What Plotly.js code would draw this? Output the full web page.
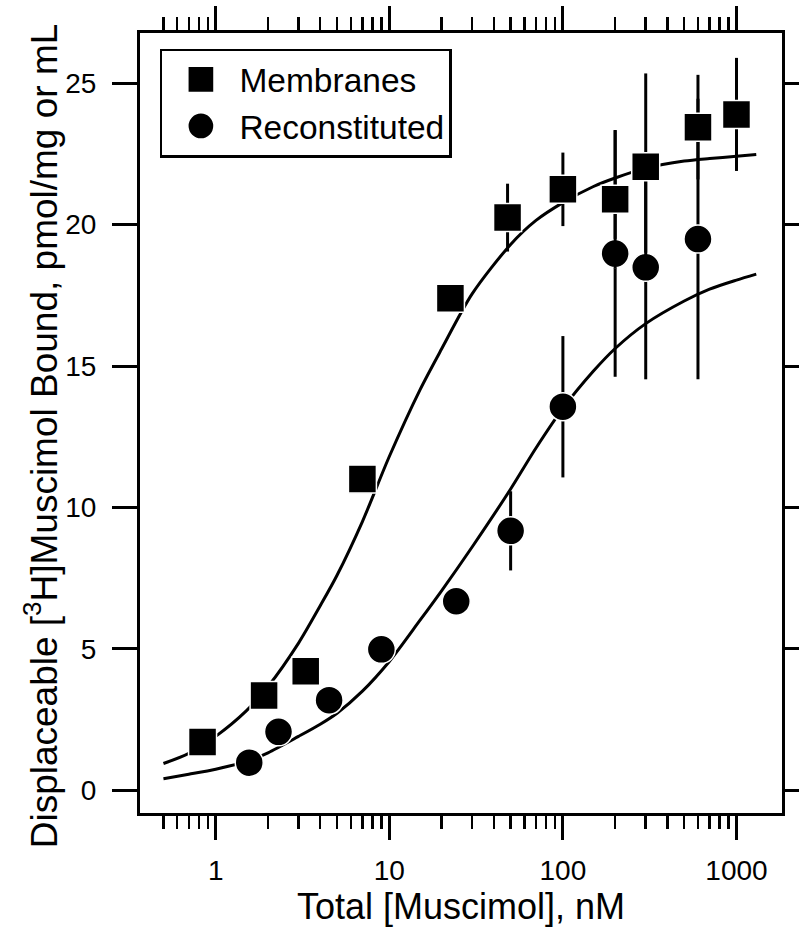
<!DOCTYPE html>
<html>
<head>
<meta charset="utf-8">
<script src="https://cdn.plot.ly/plotly-3.0.1.min.js"></script>
<style>html,body{margin:0;padding:0;background:#fff;}#chart{width:799px;height:930px;}</style>
</head>
<body>
<div id="chart"></div>
<script>
var membranesX = [0.84, 1.9, 3.3, 7.0, 22.5, 48, 100, 200, 300, 600, 1000];
var membranesY = [1.7, 3.35, 4.2, 11.0, 17.4, 20.25, 21.25, 20.9, 22.05, 23.45, 23.9];
var membranesErr = [0, 0, 0, 0, 0, 1.2, 1.3, 2.45, 3.3, 1.85, 2.0];

var reconX = [1.56, 2.3, 4.5, 9.0, 24.3, 50, 100, 200, 300, 600];
var reconY = [0.97, 2.06, 3.18, 4.98, 6.68, 9.17, 13.56, 18.98, 18.49, 19.49];
var reconErr = [0, 0, 0, 0, 0, 1.4, 2.5, 4.36, 3.96, 4.96];

// Fitted curves, points
var fitX = [0.5, 0.7, 1, 1.5, 2, 3, 4, 5, 7, 10, 15, 20, 30, 50, 70, 100, 150, 200, 300, 500, 700, 1000, 1300];
var membranesFitY = [0.94, 1.3, 1.9, 2.8, 3.66, 5.2, 6.52, 7.6, 9.5, 11.8, 14.15, 15.6, 17.55, 19.3, 20.15, 20.78, 21.35, 21.65, 22.0, 22.25, 22.34, 22.42, 22.48];
var reconFitY = [0.4, 0.56, 0.74, 1.01, 1.32, 1.9, 2.33, 2.72, 3.5, 4.55, 6.0, 7.05, 8.6, 10.65, 12.1, 13.5, 14.82, 15.62, 16.5, 17.3, 17.72, 18.04, 18.25];

// Axis ticks
var xTickVals = [1, 10, 100, 1000];
var xTickText = ['1', '10', '100', '1000'];
var xMinorVals = [0.5, 0.6, 0.7, 0.8, 0.9, 2, 3, 4, 5, 6, 7, 8, 9, 20, 30, 40, 50, 60, 70, 80, 90, 200, 300, 400, 500, 600, 700, 800, 900];
var yTickVals = [0, 5, 10, 15, 20, 25];

var seriesNames = ['Membranes', 'Reconstituted'];
var xTitle = 'Total [Muscimol], nM';
var yTitle = 'Displaceable [<sup>3</sup>H]Muscimol Bound, pmol/mg or mL';

var FONT = 'Liberation Sans, Arial, Helvetica, sans-serif';

var traces = [
  {x: fitX, y: membranesFitY, mode: 'lines', line: {color: 'black', width: 3, shape: 'spline', smoothing: 0.8}, showlegend: false, hoverinfo: 'skip'},
  {x: fitX, y: reconFitY, mode: 'lines', line: {color: 'black', width: 3, shape: 'spline', smoothing: 0.8}, showlegend: false, hoverinfo: 'skip'},
  {x: reconX, y: reconY, name: seriesNames[1], mode: 'markers', legendrank: 2,
   marker: {symbol: 'circle', size: 28, color: 'black', line: {color: 'white', width: 1.5}},
   error_y: {type: 'data', array: reconErr, visible: true, color: 'black', thickness: 3, width: 0}},
  {x: membranesX, y: membranesY, name: seriesNames[0], mode: 'markers', legendrank: 1,
   marker: {symbol: 'square', size: 28, color: 'black', line: {color: 'white', width: 1.5}},
   error_y: {type: 'data', array: membranesErr, visible: true, color: 'black', thickness: 3, width: 0}}
];

var layout = {
  width: 799, height: 930,
  margin: {l: 140, r: 17, t: 33, b: 117},
  paper_bgcolor: 'white', plot_bgcolor: 'white',
  font: {family: FONT, color: 'black'},
  showlegend: true,
  legend: {x: 0.031, y: 0.98, xanchor: 'left', yanchor: 'top', bgcolor: 'white',
           bordercolor: 'black', borderwidth: 2.5, font: {size: 33.5, family: FONT, color: 'black'},
           itemwidth: 67, tracegroupgap: 0},
  xaxis: {
    type: 'log', range: [-0.4361, 3.2622],
    showline: true, linecolor: 'black', linewidth: 3, mirror: 'allticks',
    showgrid: false, zeroline: false,
    tickmode: 'array', tickvals: xTickVals, ticktext: xTickText,
    ticks: 'outside', ticklen: 24, tickwidth: 3, tickcolor: 'black',
    tickfont: {size: 28, family: FONT, color: 'black'}, ticklabelstandoff: 6,
    minor: {tickmode: 'array', tickvals: xMinorVals, ticks: 'outside', ticklen: 13, tickwidth: 2.5, tickcolor: 'black', showgrid: false},
    title: {text: xTitle, font: {size: 36, family: FONT, color: 'black'}, standoff: 2},
    automargin: false
  },
  yaxis: {
    range: [-0.81, 26.78],
    showline: true, linecolor: 'black', linewidth: 3, mirror: 'allticks',
    showgrid: false, zeroline: false,
    tickmode: 'array', tickvals: yTickVals,
    ticks: 'outside', ticklen: 25, tickwidth: 3, tickcolor: 'black',
    tickfont: {size: 28, family: FONT, color: 'black'}, ticklabelstandoff: 10,
    title: {text: yTitle, font: {size: 37, family: FONT, color: 'black'}, standoff: 2},
    automargin: false
  }
};

Plotly.newPlot('chart', traces, layout, {staticPlot: true, displayModeBar: false}).then(function (gd) {
  // enlarge legend symbols to match the plotted marker size
  gd.querySelectorAll('.legend .legendpoints path.scatterpts').forEach(function (p) {
    var t = p.getAttribute('transform') || '';
    p.setAttribute('transform', t + ' scale(1.7)');
  });
  // nudge the y-axis title to the reference position
  var yt = gd.querySelector('.g-ytitle');
  if (yt) {
    var t0 = yt.getAttribute('transform') || '';
    yt.setAttribute('transform', 'translate(5,13) ' + t0);
  }
});
</script>
</body>
</html>
